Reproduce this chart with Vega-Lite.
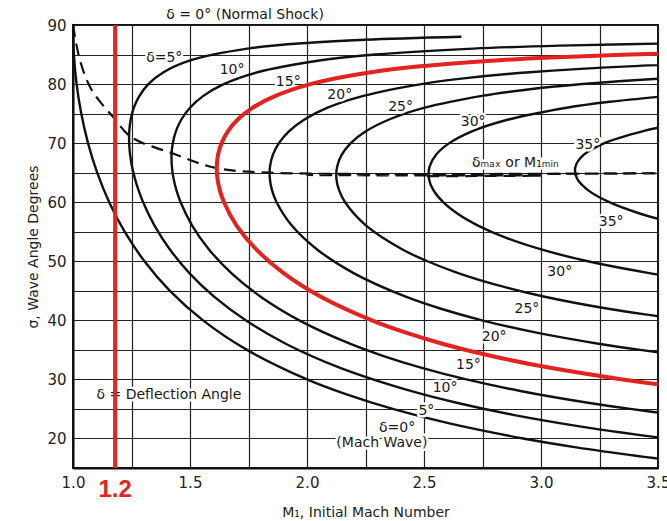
{
  "$schema": "https://vega.github.io/schema/vega-lite/v6.json",
  "width": 585,
  "height": 443,
  "autosize": "none",
  "padding": {"left": 73, "top": 25, "right": 9, "bottom": 53},
  "background": "white",
  "config": {
    "view": {"stroke": "#111", "strokeWidth": 2},
    "font": "DejaVu Sans"
  },
  "datasets": {
    "curves": [
      {"d":0,"M":1.0,"s":90},{"d":0,"M":1.0038,"s":85},{"d":0,"M":1.0154,"s":80},{"d":0,"M":1.0353,"s":75},{"d":0,"M":1.0642,"s":70},{"d":0,"M":1.1034,"s":65},{"d":0,"M":1.1547,"s":60},{"d":0,"M":1.2208,"s":55},{"d":0,"M":1.3054,"s":50},{"d":0,"M":1.4142,"s":45},{"d":0,"M":1.5557,"s":40},{"d":0,"M":1.7434,"s":35},{"d":0,"M":2.0,"s":30},{"d":0,"M":2.166,"s":27.5},{"d":0,"M":2.3662,"s":25},{"d":0,"M":2.613,"s":22.5},{"d":0,"M":2.9238,"s":20},{"d":0,"M":3.151,"s":18.5},{"d":0,"M":3.4203,"s":17},{"d":0,"M":3.5,"s":16.6},
      {"d":5,"M":2.66,"s":88},{"d":5,"M":2.249,"s":87.5},{"d":5,"M":2.014,"s":87},{"d":5,"M":1.745,"s":86},{"d":5,"M":1.501,"s":84},{"d":5,"M":1.387,"s":82},{"d":5,"M":1.322,"s":80},{"d":5,"M":1.284,"s":78},{"d":5,"M":1.26,"s":76},{"d":5,"M":1.2466,"s":74},{"d":5,"M":1.2404,"s":72},{"d":5,"M":1.24,"s":70},{"d":5,"M":1.2441,"s":68},{"d":5,"M":1.2524,"s":66},{"d":5,"M":1.2646,"s":64},{"d":5,"M":1.2804,"s":62},{"d":5,"M":1.2996,"s":60},{"d":5,"M":1.349,"s":56},{"d":5,"M":1.414,"s":52},{"d":5,"M":1.4974,"s":48},{"d":5,"M":1.603,"s":44},{"d":5,"M":1.738,"s":40},{"d":5,"M":1.911,"s":36},{"d":5,"M":2.139,"s":32},{"d":5,"M":2.447,"s":28},{"d":5,"M":2.644,"s":26},{"d":5,"M":2.881,"s":24},{"d":5,"M":3.172,"s":22},{"d":5,"M":3.344,"s":21},{"d":5,"M":3.537,"s":20},
      {"d":10,"M":3.72,"s":87},{"d":10,"M":3.08,"s":86.5},{"d":10,"M":2.711,"s":86},{"d":10,"M":2.292,"s":85},{"d":10,"M":2.053,"s":84},{"d":10,"M":1.788,"s":82},{"d":10,"M":1.644,"s":80},{"d":10,"M":1.557,"s":78},{"d":10,"M":1.5,"s":76},{"d":10,"M":1.4631,"s":74},{"d":10,"M":1.4397,"s":72},{"d":10,"M":1.4265,"s":70},{"d":10,"M":1.4211,"s":68},{"d":10,"M":1.4226,"s":66},{"d":10,"M":1.4297,"s":64},{"d":10,"M":1.4423,"s":62},{"d":10,"M":1.4599,"s":60},{"d":10,"M":1.5099,"s":56},{"d":10,"M":1.5811,"s":52},{"d":10,"M":1.6766,"s":48},{"d":10,"M":1.802,"s":44},{"d":10,"M":1.967,"s":40},{"d":10,"M":2.186,"s":36},{"d":10,"M":2.324,"s":34},{"d":10,"M":2.487,"s":32},{"d":10,"M":2.681,"s":30},{"d":10,"M":2.917,"s":28},{"d":10,"M":3.208,"s":26},{"d":10,"M":3.382,"s":25},{"d":10,"M":3.579,"s":24},
      {"d":15,"M":3.89,"s":85.5},{"d":15,"M":3.378,"s":85},{"d":15,"M":3.043,"s":84.5},{"d":15,"M":2.804,"s":84},{"d":15,"M":2.483,"s":83},{"d":15,"M":2.274,"s":82},{"d":15,"M":2.015,"s":80},{"d":15,"M":1.865,"s":78},{"d":15,"M":1.768,"s":76},{"d":15,"M":1.704,"s":74},{"d":15,"M":1.6617,"s":72},{"d":15,"M":1.6349,"s":70},{"d":15,"M":1.6197,"s":68},{"d":15,"M":1.6144,"s":66},{"d":15,"M":1.6173,"s":64},{"d":15,"M":1.6277,"s":62},{"d":15,"M":1.6451,"s":60},{"d":15,"M":1.6998,"s":56},{"d":15,"M":1.7832,"s":52},{"d":15,"M":1.9,"s":48},{"d":15,"M":2.059,"s":44},{"d":15,"M":2.277,"s":40},{"d":15,"M":2.416,"s":38},{"d":15,"M":2.582,"s":36},{"d":15,"M":2.784,"s":34},{"d":15,"M":3.033,"s":32},{"d":15,"M":3.348,"s":30},{"d":15,"M":3.539,"s":29},
      {"d":20,"M":4.157,"s":84},{"d":20,"M":3.374,"s":83},{"d":20,"M":2.951,"s":82},{"d":20,"M":2.679,"s":81},{"d":20,"M":2.489,"s":80},{"d":20,"M":2.241,"s":78},{"d":20,"M":2.088,"s":76},{"d":20,"M":1.989,"s":74},{"d":20,"M":1.9227,"s":72},{"d":20,"M":1.88,"s":70},{"d":20,"M":1.854,"s":68},{"d":20,"M":1.8418,"s":66},{"d":20,"M":1.8412,"s":64},{"d":20,"M":1.8507,"s":62},{"d":20,"M":1.87,"s":60},{"d":20,"M":1.936,"s":56},{"d":20,"M":2.043,"s":52},{"d":20,"M":2.199,"s":48},{"d":20,"M":2.422,"s":44},{"d":20,"M":2.569,"s":42},{"d":20,"M":2.748,"s":40},{"d":20,"M":2.97,"s":38},{"d":20,"M":3.252,"s":36},{"d":20,"M":3.424,"s":35},{"d":20,"M":3.623,"s":34},
      {"d":25,"M":4.134,"s":82},{"d":25,"M":3.54,"s":81},{"d":25,"M":3.176,"s":80},{"d":25,"M":2.928,"s":79},{"d":25,"M":2.748,"s":78},{"d":25,"M":2.503,"s":76},{"d":25,"M":2.351,"s":74},{"d":25,"M":2.2514,"s":72},{"d":25,"M":2.187,"s":70},{"d":25,"M":2.148,"s":68},{"d":25,"M":2.1287,"s":66},{"d":25,"M":2.1256,"s":64},{"d":25,"M":2.1374,"s":62},{"d":25,"M":2.1627,"s":60},{"d":25,"M":2.254,"s":56},{"d":25,"M":2.408,"s":52},{"d":25,"M":2.515,"s":50},{"d":25,"M":2.646,"s":48},{"d":25,"M":2.81,"s":46},{"d":25,"M":3.016,"s":44},{"d":25,"M":3.281,"s":42},{"d":25,"M":3.444,"s":41},{"d":25,"M":3.635,"s":40},
      {"d":30,"M":3.544,"s":78},{"d":30,"M":3.294,"s":77},{"d":30,"M":3.11,"s":76},{"d":30,"M":2.861,"s":74},{"d":30,"M":2.705,"s":72},{"d":30,"M":2.608,"s":70},{"d":30,"M":2.5507,"s":68},{"d":30,"M":2.5237,"s":66},{"d":30,"M":2.5209,"s":64},{"d":30,"M":2.5408,"s":62},{"d":30,"M":2.582,"s":60},{"d":30,"M":2.6454,"s":58},{"d":30,"M":2.733,"s":56},{"d":30,"M":2.849,"s":54},{"d":30,"M":3.001,"s":52},{"d":30,"M":3.2,"s":50},{"d":30,"M":3.463,"s":48},{"d":30,"M":3.627,"s":47},
      {"d":35,"M":3.553,"s":73},{"d":35,"M":3.433,"s":72},{"d":35,"M":3.271,"s":70},{"d":35,"M":3.182,"s":68},{"d":35,"M":3.147,"s":66},{"d":35,"M":3.154,"s":64},{"d":35,"M":3.202,"s":62},{"d":35,"M":3.292,"s":60},{"d":35,"M":3.428,"s":58},{"d":35,"M":3.519,"s":57}
    ],
    "dmax": [
      {"M":1.0,"s":90},{"M":1.03,"s":84},{"M":1.08,"s":79},{"M":1.17,"s":74.5},{"M":1.25,"s":71},{"M":1.43,"s":68.2},{"M":1.61,"s":65.8},{"M":1.84,"s":65},{"M":2.0,"s":64.6},{"M":2.5,"s":64.4},{"M":3.0,"s":64.5},{"M":3.5,"s":64.9}
    ],
    "redline": [{"M":1.18,"s":15},{"M":1.18,"s":90}],
    "redlabel": [{"M":1.18,"s":11.2,"t":"1.2"}],
    "labels": [
      {"M":1.39,"s":84.4,"t":"δ=5°"},
      {"M":1.68,"s":82.4,"t":"10°"},
      {"M":1.92,"s":80.3,"t":"15°"},
      {"M":2.14,"s":78.1,"t":"20°"},
      {"M":2.40,"s":76.1,"t":"25°"},
      {"M":2.71,"s":73.6,"t":"30°"},
      {"M":3.20,"s":69.7,"t":"35°"},
      {"M":2.89,"s":66.6,"t":"δₘₐₓ or M₁ₘᵢₙ"},
      {"M":3.30,"s":56.6,"t":"35°"},
      {"M":3.08,"s":48.1,"t":"30°"},
      {"M":2.94,"s":41.9,"t":"25°"},
      {"M":2.80,"s":37.1,"t":"20°"},
      {"M":2.69,"s":32.4,"t":"15°"},
      {"M":2.59,"s":28.6,"t":"10°"},
      {"M":2.51,"s":24.7,"t":"5°"},
      {"M":2.385,"s":21.7,"t":"δ=0°"},
      {"M":2.32,"s":19.2,"t":"(Mach Wave)"},
      {"M":1.41,"s":27.3,"t":"δ = Deflection Angle"},
      {"M":1.735,"s":91.7,"t":"δ = 0° (Normal Shock)"}
    ]
  },
  "encoding": {
    "x": {
      "field": "M", "type": "quantitative",
      "scale": {"domain": [1.0, 3.5], "nice": false, "zero": false},
      "axis": {
        "values": [1.0,1.25,1.5,1.75,2.0,2.25,2.5,2.75,3.0,3.25,3.5],
        "labelExpr": "(datum.value*2) % 1 == 0 ? format(datum.value, '.1f') : ''",
        "ticks": false, "grid": true, "gridColor": "#222", "gridWidth": 1.2, "gridOpacity": 1,
        "domain": true, "domainColor": "#111", "domainWidth": 2,
        "labelFontSize": 15, "labelColor": "#222", "labelPadding": 7, "labelFlush": false, "labelOverlap": false,
        "title": "M₁, Initial Mach Number", "titleFontSize": 14, "titleFontWeight": "normal", "titleColor": "#222", "titlePadding": 15
      }
    },
    "y": {
      "field": "s", "type": "quantitative",
      "scale": {"domain": [15, 90], "nice": false, "zero": false},
      "axis": {
        "values": [15,20,25,30,35,40,45,50,55,60,65,70,75,80,85,90],
        "labelExpr": "datum.value % 10 == 0 ? datum.label : ''",
        "ticks": false, "grid": true, "gridColor": "#222", "gridWidth": 1.2, "gridOpacity": 1,
        "domain": true, "domainColor": "#111", "domainWidth": 2,
        "labelFontSize": 15, "labelColor": "#222", "labelPadding": 7, "labelOverlap": false,
        "title": "σ, Wave Angle Degrees", "titleFontSize": 14, "titleFontWeight": "normal", "titleColor": "#222", "titlePadding": 6
      }
    }
  },
  "layer": [
    {
      "data": {"name": "curves"},
      "transform": [{"filter": "datum.d != 15"}],
      "mark": {"type": "line", "color": "#111", "strokeWidth": 2.4, "interpolate": "catmull-rom", "clip": true},
      "encoding": {
        "detail": {"field": "d", "type": "nominal"},
        "order": {"field": "s", "sort": "descending"}
      }
    },
    {
      "data": {"name": "dmax"},
      "mark": {"type": "line", "color": "#111", "strokeWidth": 2.2, "strokeDash": [12, 7], "interpolate": "catmull-rom", "clip": true},
      "encoding": {"order": {"field": "s", "sort": "descending"}}
    },
    {
      "data": {"name": "labels"},
      "mark": {"type": "text", "fontSize": 14, "align": "center", "baseline": "middle", "stroke": "white", "strokeWidth": 5, "color": "white"},
      "encoding": {"text": {"field": "t", "type": "nominal"}}
    },
    {
      "data": {"name": "labels"},
      "mark": {"type": "text", "fontSize": 14, "align": "center", "baseline": "middle", "color": "#1a1a1a"},
      "encoding": {"text": {"field": "t", "type": "nominal"}}
    },
    {
      "data": {"name": "curves"},
      "transform": [{"filter": "datum.d == 15"}],
      "mark": {"type": "line", "color": "#e3231f", "strokeWidth": 4, "interpolate": "catmull-rom", "clip": true},
      "encoding": {"order": {"field": "s", "sort": "descending"}}
    },
    {
      "data": {"name": "redline"},
      "mark": {"type": "line", "color": "#e3231f", "strokeWidth": 4},
      "encoding": {"order": {"field": "s", "sort": "descending"}}
    },
    {
      "data": {"name": "redlabel"},
      "mark": {"type": "text", "fontSize": 24, "fontWeight": "bold", "align": "center", "baseline": "middle", "color": "#e3231f", "font": "Liberation Sans"},
      "encoding": {"text": {"field": "t", "type": "nominal"}}
    }
  ]
}
